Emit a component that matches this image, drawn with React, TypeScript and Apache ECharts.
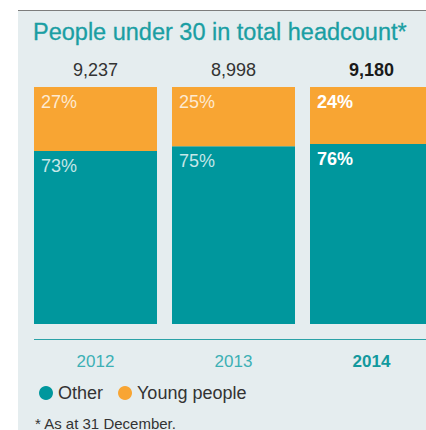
import React, { useEffect, useRef } from "react";
import * as echarts from "echarts";

const years = ["2012", "2013", "2014"];
const totals = ["9,237", "8,998", "9,180"];
const otherPct = [73, 75, 76];
const youngPct = [27, 25, 24];

const TEAL = "#00979d";
const ORANGE = "#f8a533";
const FONT = "'Liberation Sans', Arial, Helvetica, sans-serif";

export default function App() {
  const ref = useRef<HTMLDivElement>(null);
  useEffect(() => {
    const chart = echarts.init(ref.current!, null, { renderer: "svg" });
    const last = years.length - 1;
    const pctLabel = (bold: boolean) => ({
      show: true,
      position: [7, 6],
      formatter: "{c}%",
      fontSize: 18,
      fontFamily: FONT,
      fontWeight: bold ? "bold" : "normal",
      color: bold ? "#ffffff" : "rgba(255,255,255,0.78)",
    });
    const mk = (vals: number[]) =>
      vals.map((v, i) => ({ value: v, label: pctLabel(i === last) }));
    chart.setOption({
      animation: false,
      backgroundColor: "#ffffff",
      textStyle: { fontFamily: FONT },
      grid: {
        left: 26.5,
        width: 414,
        top: 87,
        bottom: 106,
        containLabel: false,
        outerBoundsMode: "none",
      },
      legend: {
        left: 34,
        top: 379,
        icon: "circle",
        itemWidth: 14,
        itemHeight: 14,
        itemGap: 15,
        textStyle: { fontSize: 18, color: "#333333", fontFamily: FONT },
        data: ["Other", "Young people"],
      },
      xAxis: [
        {
          type: "category",
          data: years,
          axisLine: { show: false },
          axisTick: { show: false },
          axisLabel: {
            margin: 29,
            fontSize: 17,
            fontFamily: FONT,
            formatter: (v: string, i: number) => (i === last ? `{b|${v}}` : `{n|${v}}`),
            rich: {
              n: { fontSize: 17, color: "#3cb0b5", fontFamily: FONT },
              b: { fontSize: 17, color: "#12999e", fontWeight: "bold", fontFamily: FONT },
            },
          },
        },
        {
          type: "category",
          position: "top",
          data: totals,
          axisLine: { show: false },
          axisTick: { show: false },
          axisLabel: {
            margin: 8,
            formatter: (v: string, i: number) => (i === last ? `{b|${v}}` : `{n|${v}}`),
            rich: {
              n: { fontSize: 18, color: "#333333", fontFamily: FONT },
              b: { fontSize: 18, color: "#1a1a1a", fontWeight: "bold", fontFamily: FONT },
            },
          },
        },
      ],
      yAxis: { type: "value", min: 0, max: 100, show: false },
      series: [
        {
          name: "Other",
          type: "bar",
          stack: "total",
          barWidth: 123,
          itemStyle: { color: TEAL },
          data: mk(otherPct),
        },
        {
          name: "Young people",
          type: "bar",
          stack: "total",
          barWidth: 123,
          itemStyle: { color: ORANGE },
          data: mk(youngPct),
        },
      ],
      graphic: [
        {
          type: "rect",
          z: -10,
          silent: true,
          shape: { x: 18, y: 10, width: 420, height: 430 },
          style: { fill: "#e5edef" },
        },
        {
          type: "line",
          z: -9,
          silent: true,
          shape: { x1: 18, y1: 10.5, x2: 426, y2: 10.5 },
          style: { stroke: "#7d7d7d", lineWidth: 1 },
        },
        {
          type: "text",
          x: 33,
          y: 32,
          style: {
            text: "People under 30 in total headcount*",
            fontSize: 23.5,
            fontFamily: FONT,
            fill: "#1a9ea3",
            stroke: "#1a9ea3",
            lineWidth: 0.3,
            textVerticalAlign: "middle",
          },
        },
        {
          type: "line",
          silent: true,
          shape: { x1: 34, y1: 339.5, x2: 426, y2: 339.5 },
          style: { stroke: "#2aa2a7", lineWidth: 1 },
        },
        {
          type: "text",
          x: 35,
          y: 423,
          style: {
            text: "* As at 31 December.",
            fontSize: 15,
            fontFamily: FONT,
            fill: "#333333",
            textVerticalAlign: "middle",
          },
        },
      ],
    });
    return () => chart.dispose();
  }, []);
  return (
    <div
      ref={ref}
      style={{ position: "fixed", left: 0, top: 0, width: 426, height: 430 }}
    />
  );
}
